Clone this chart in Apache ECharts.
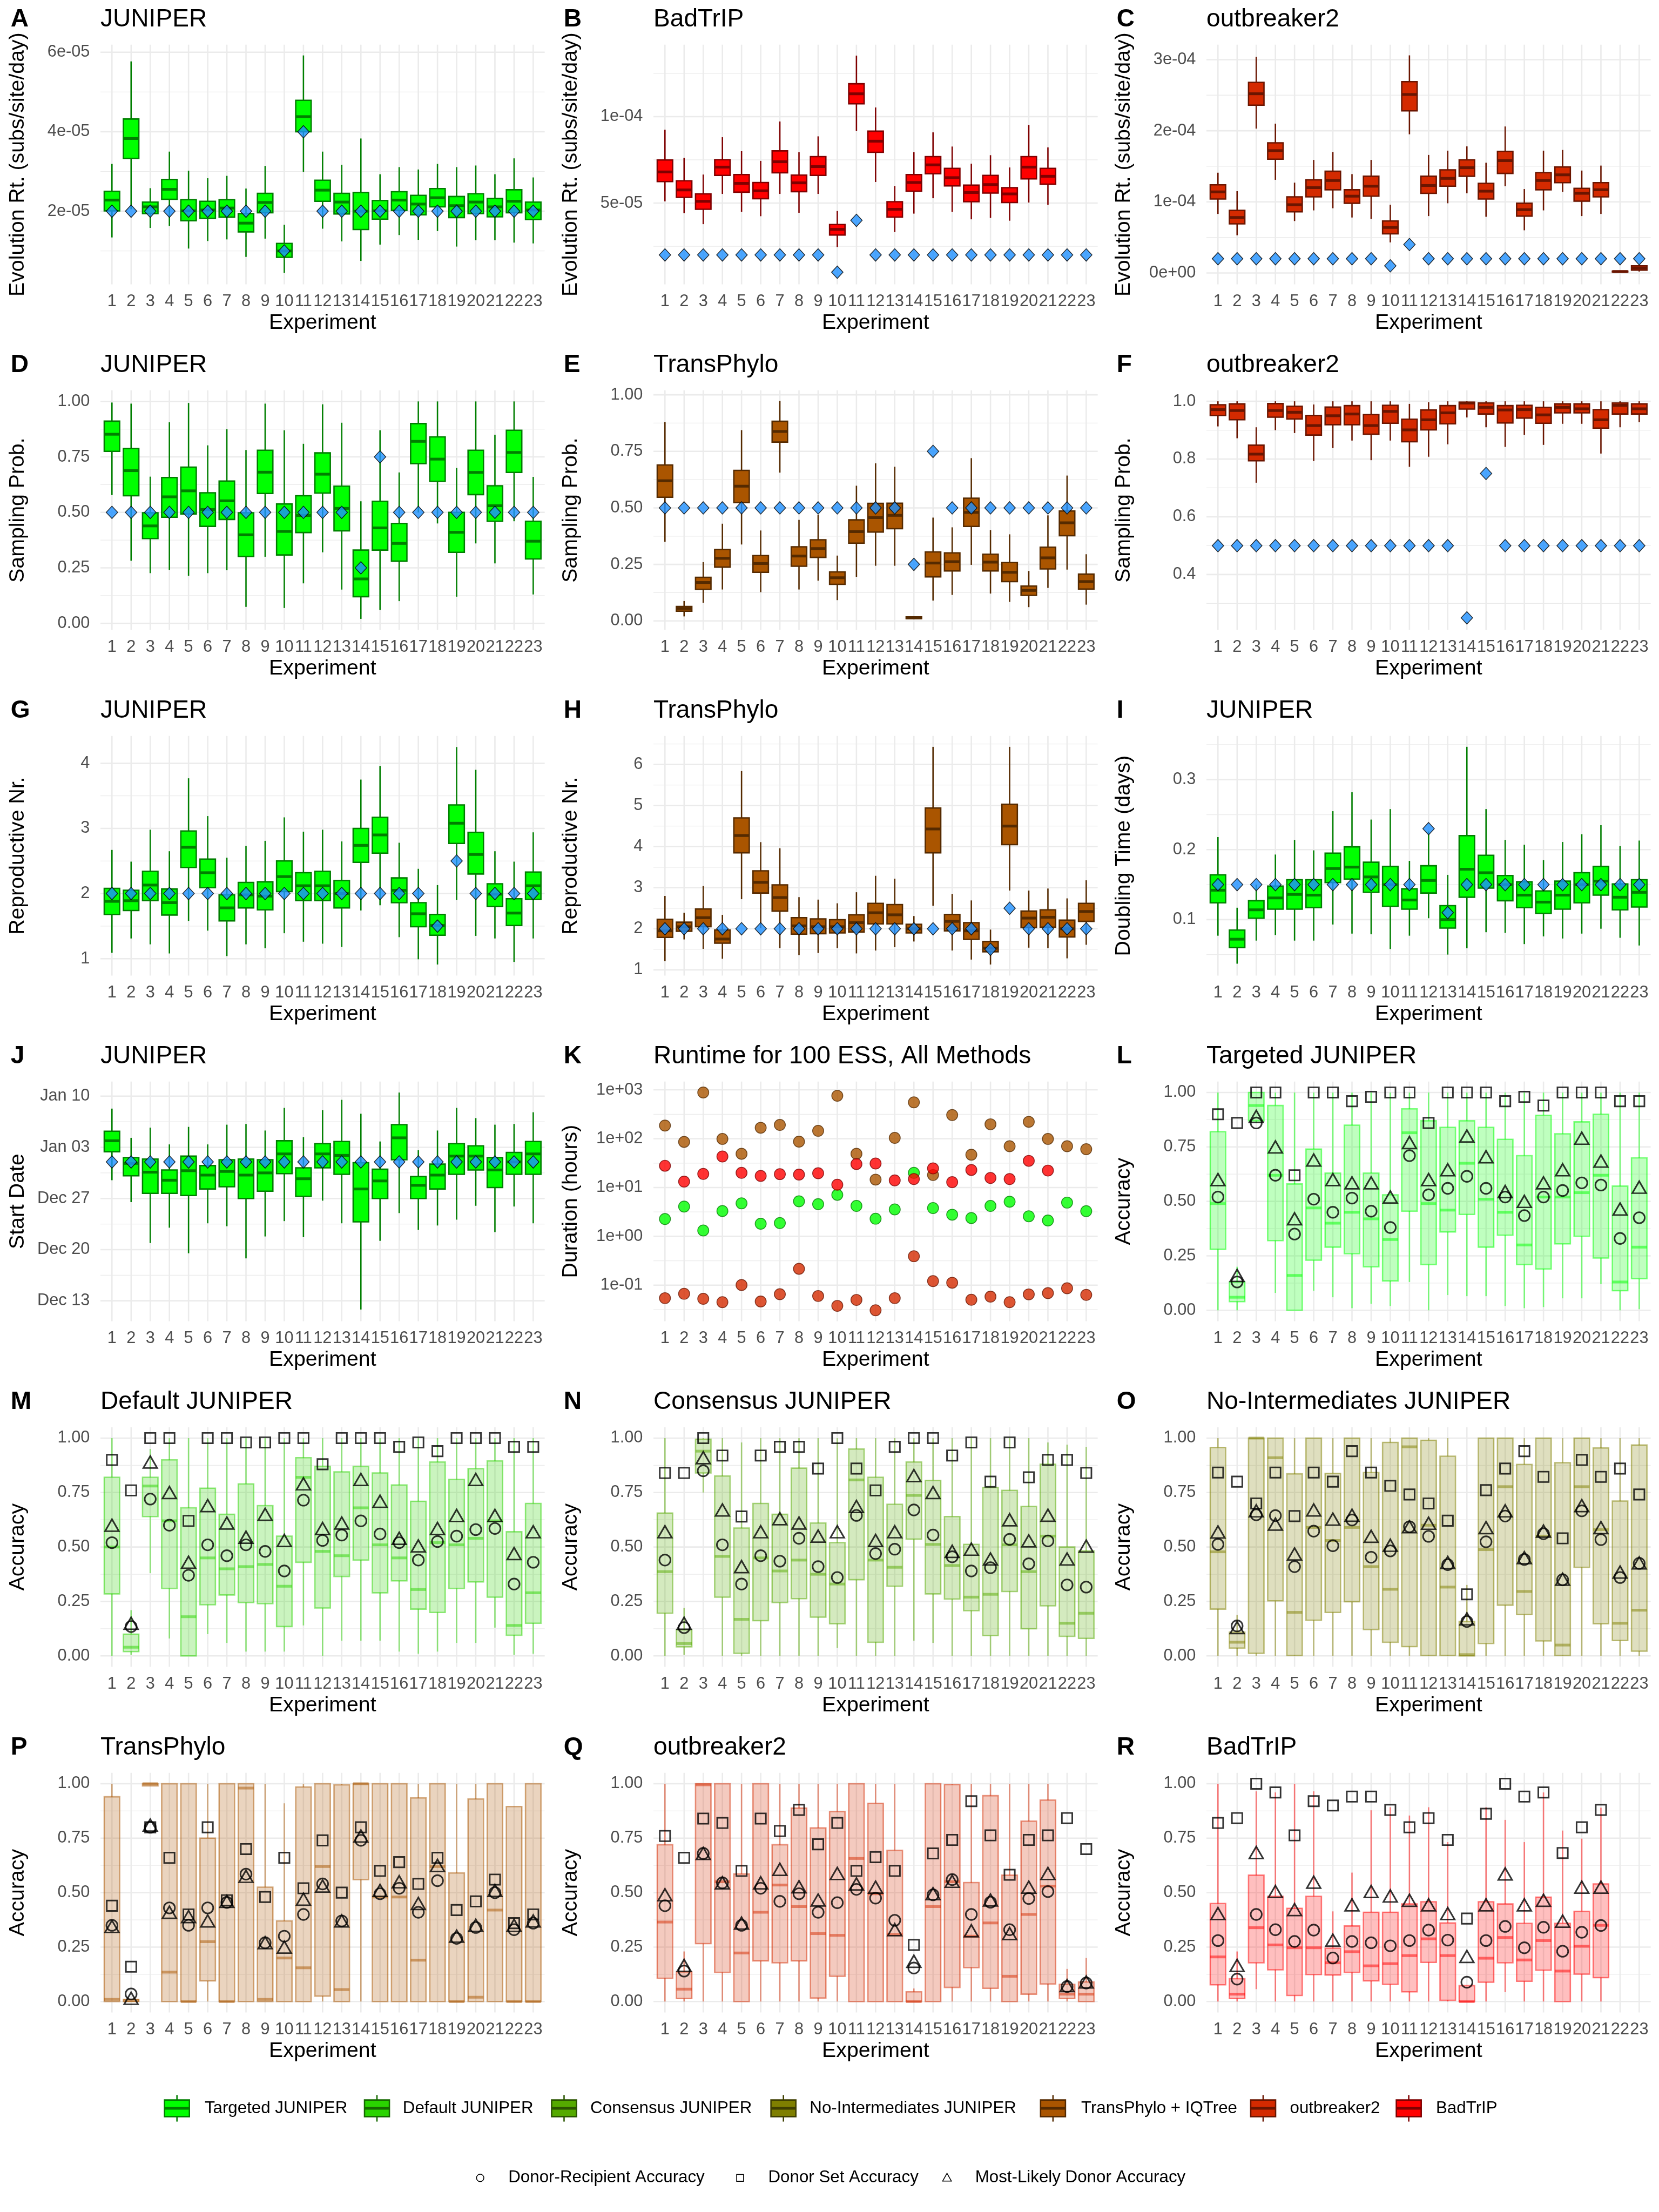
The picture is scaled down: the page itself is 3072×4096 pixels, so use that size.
<!DOCTYPE html>
<html><head><meta charset="utf-8">
<script src="https://cdn.jsdelivr.net/npm/echarts@6.0.0/dist/echarts.min.js"></script>
<style>html,body{margin:0;padding:0;background:#ffffff;}#chart{width:3072px;height:4096px;}</style>
</head><body><div id="chart"></div>
<script>
const S = 3072 / 3600;
const FONT = '"Liberation Sans", Arial, Helvetica, sans-serif';
const experiments = ['1','2','3','4','5','6','7','8','9','10','11','12','13','14','15','16','17','18','19','20','21','22','23'];

// ---------- Panel A-C: evolution rate [min, q1, median, q3, max] ----------
const evoJuniperBox = [
 [1.34e-5,2.01e-5,2.28e-5,2.50e-5,3.19e-5],[2.05e-5,3.33e-5,3.83e-5,4.32e-5,5.77e-5],[1.58e-5,1.94e-5,2.11e-5,2.23e-5,2.58e-5],
 [1.63e-5,2.30e-5,2.55e-5,2.80e-5,3.50e-5],[1.06e-5,1.76e-5,2.01e-5,2.29e-5,3.02e-5],[1.25e-5,1.82e-5,2.03e-5,2.25e-5,2.83e-5],
 [1.29e-5,1.85e-5,2.08e-5,2.29e-5,2.89e-5],[0.85e-5,1.48e-5,1.70e-5,1.94e-5,2.57e-5],[1.31e-5,1.96e-5,2.22e-5,2.45e-5,3.14e-5],
 [0.45e-5,0.84e-5,1.00e-5,1.19e-5,1.66e-5],[2.99e-5,4.00e-5,4.38e-5,4.79e-5,5.92e-5],[1.56e-5,2.25e-5,2.53e-5,2.78e-5,3.50e-5],
 [1.24e-5,1.93e-5,2.23e-5,2.45e-5,3.17e-5],[0.75e-5,1.54e-5,2.00e-5,2.47e-5,3.83e-5],[1.16e-5,1.80e-5,2.01e-5,2.27e-5,2.93e-5],
 [1.40e-5,2.02e-5,2.28e-5,2.49e-5,3.11e-5],[1.28e-5,1.91e-5,2.18e-5,2.40e-5,3.05e-5],[1.50e-5,2.11e-5,2.34e-5,2.57e-5,3.19e-5],
 [1.11e-5,1.84e-5,2.14e-5,2.37e-5,3.11e-5],[1.27e-5,1.94e-5,2.23e-5,2.44e-5,3.15e-5],[1.27e-5,1.86e-5,2.11e-5,2.32e-5,2.93e-5],
 [1.21e-5,1.96e-5,2.25e-5,2.54e-5,3.33e-5],[1.19e-5,1.79e-5,2.03e-5,2.23e-5,2.85e-5]];
const evoBadtripBox = [
 [5.10e-5,6.24e-5,6.80e-5,7.49e-5,9.24e-5],[4.42e-5,5.33e-5,5.76e-5,6.29e-5,7.61e-5],[3.78e-5,4.64e-5,5.10e-5,5.53e-5,6.65e-5],
 [5.53e-5,6.60e-5,7.08e-5,7.51e-5,8.81e-5],[4.49e-5,5.63e-5,6.14e-5,6.65e-5,8.00e-5],[4.24e-5,5.25e-5,5.71e-5,6.19e-5,7.44e-5],
 [5.53e-5,6.75e-5,7.39e-5,8.02e-5,9.72e-5],[4.44e-5,5.66e-5,6.17e-5,6.62e-5,7.94e-5],[5.53e-5,6.60e-5,7.11e-5,7.69e-5,8.86e-5],
 [2.46e-5,3.15e-5,3.48e-5,3.76e-5,4.54e-5],[9.16e-5,10.74e-5,11.32e-5,11.90e-5,13.53e-5],[6.22e-5,7.94e-5,8.58e-5,9.16e-5,10.53e-5],
 [3.32e-5,4.19e-5,4.64e-5,5.08e-5,5.99e-5],[4.39e-5,5.69e-5,6.19e-5,6.65e-5,7.94e-5],[5.28e-5,6.70e-5,7.21e-5,7.69e-5,9.09e-5],
 [4.49e-5,5.99e-5,6.47e-5,7.01e-5,8.27e-5],[4.06e-5,5.08e-5,5.61e-5,6.04e-5,7.28e-5],[4.14e-5,5.58e-5,6.07e-5,6.60e-5,7.77e-5],
 [3.98e-5,5.03e-5,5.53e-5,5.89e-5,7.06e-5],[5.03e-5,6.40e-5,7.08e-5,7.69e-5,9.52e-5],[4.90e-5,6.09e-5,6.55e-5,7.01e-5,8.22e-5],
 null,null];
const evoOutbreakerBox = [
 [0.83e-4,1.04e-4,1.14e-4,1.24e-4,1.41e-4],[0.53e-4,0.69e-4,0.78e-4,0.88e-4,1.15e-4],[2.03e-4,2.36e-4,2.52e-4,2.68e-4,3.04e-4],
 [1.31e-4,1.60e-4,1.72e-4,1.83e-4,2.10e-4],[0.73e-4,0.86e-4,0.96e-4,1.07e-4,1.27e-4],[0.88e-4,1.07e-4,1.20e-4,1.31e-4,1.59e-4],
 [0.91e-4,1.17e-4,1.30e-4,1.43e-4,1.70e-4],[0.78e-4,0.98e-4,1.08e-4,1.17e-4,1.39e-4],[0.76e-4,1.08e-4,1.22e-4,1.36e-4,1.59e-4],
 [0.43e-4,0.55e-4,0.64e-4,0.73e-4,0.96e-4],[1.95e-4,2.28e-4,2.51e-4,2.69e-4,3.06e-4],[0.80e-4,1.12e-4,1.23e-4,1.36e-4,1.66e-4],
 [0.98e-4,1.22e-4,1.33e-4,1.45e-4,1.72e-4],[1.12e-4,1.36e-4,1.48e-4,1.59e-4,1.78e-4],[0.79e-4,1.04e-4,1.15e-4,1.26e-4,1.55e-4],
 [1.22e-4,1.40e-4,1.58e-4,1.71e-4,2.06e-4],[0.60e-4,0.80e-4,0.89e-4,0.98e-4,1.18e-4],[0.88e-4,1.17e-4,1.30e-4,1.41e-4,1.72e-4],
 [1.14e-4,1.27e-4,1.38e-4,1.49e-4,1.73e-4],[0.80e-4,1.01e-4,1.12e-4,1.19e-4,1.44e-4],[0.83e-4,1.07e-4,1.17e-4,1.27e-4,1.51e-4],
 [0.01e-4,0.015e-4,0.02e-4,0.025e-4,0.03e-4],[0.02e-4,0.04e-4,0.07e-4,0.10e-4,0.11e-4]];
const evoTrue = [2e-5,2e-5,2e-5,2e-5,2e-5,2e-5,2e-5,2e-5,2e-5,1e-5,4e-5,2e-5,2e-5,2e-5,2e-5,2e-5,2e-5,2e-5,2e-5,2e-5,2e-5,2e-5,2e-5];

// ---------- Panel D-F: sampling probability ----------
const sampJuniperBox = [
 [.578,.775,.852,.911,.995],[.282,.575,.688,.788,.99],[.226,.382,.439,.498,.661],[.241,.478,.570,.657,.906],
 [.214,.493,.597,.704,.993],[.226,.437,.513,.588,.802],[.239,.468,.552,.641,.875],[.074,.301,.399,.498,.781],
 [.30,.585,.681,.78,.99],[.069,.308,.414,.538,.87],[.18,.409,.486,.575,.809],[.32,.587,.672,.768,.987],
 [.152,.417,.518,.618,.904],[.02,.12,.20,.33,.55],[.06,.33,.43,.55,.87],[.10,.28,.36,.45,.68],
 [.50,.72,.82,.90,1.0],[.45,.64,.74,.84,1.0],[.12,.32,.41,.50,.70],[.36,.58,.68,.78,1.0],
 [.27,.46,.53,.62,.85],[.46,.68,.77,.87,1.0],[.13,.29,.37,.46,.66]];
const sampTransphyloBox = [
 [.35,.547,.62,.69,.88],[.02,.043,.055,.064,.088],[.08,.14,.17,.193,.26],[.139,.238,.277,.316,.43],
 [.338,.523,.596,.666,.844],[.127,.215,.254,.289,.40],[.656,.791,.838,.883,.973],[.139,.242,.287,.328,.447],
 [.178,.281,.32,.359,.47],[.092,.162,.191,.217,.289],[.195,.344,.395,.447,.598],[.244,.393,.457,.52,.697],
 [.244,.408,.467,.521,.682],[.008,.01,.014,.018,.02],[.09,.195,.256,.305,.457],[.115,.221,.262,.301,.414],
 [.248,.418,.48,.543,.72],[.121,.221,.26,.295,.402],[.084,.174,.215,.258,.383],[.061,.113,.135,.154,.221],
 [.146,.23,.279,.326,.467],[.227,.377,.434,.486,.643],[.072,.141,.174,.207,.295]];
const sampOutbreakerBox = [
 [.913,.951,.971,.988,1.0],[.872,.936,.968,.991,1.0],[.718,.794,.817,.848,.91],[.90,.945,.968,.992,1.0],
 [.89,.939,.962,.983,1.0],[.793,.883,.916,.951,.989],[.838,.919,.95,.98,1.0],[.864,.919,.956,.985,1.0],
 [.796,.886,.916,.954,1.0],[.864,.924,.965,.986,1.0],[.773,.86,.901,.938,.991],[.808,.901,.936,.97,.997],
 [.851,.922,.96,.985,1.0],[.944,.973,.994,.997,1.0],[.91,.956,.979,.994,1.0],[.842,.925,.97,.985,1.0],
 [.884,.942,.971,.986,1.0],[.849,.924,.953,.979,1.0],[.922,.96,.979,.991,1.0],[.922,.96,.974,.991,1.0],
 [.819,.907,.936,.971,1.0],[.91,.956,.986,.994,1.0],[.928,.956,.974,.991,1.0]];
const sampTrue = [.5,.5,.5,.5,.5,.5,.5,.5,.5,.5,.5,.5,.5,.25,.75,.5,.5,.5,.5,.5,.5,.5,.5];

// ---------- Panel G-H: reproductive number ----------
const rJuniperBox = [
 [1.09,1.68,1.88,2.08,2.67],[1.31,1.74,1.89,2.05,2.49],[1.22,1.89,2.13,2.34,2.98],[1.08,1.67,1.86,2.07,2.65],
 [1.58,2.40,2.71,2.96,3.77],[1.43,2.09,2.32,2.53,3.19],[1.04,1.58,1.78,1.98,2.55],[1.22,1.78,1.98,2.17,2.73],
 [1.16,1.75,1.96,2.18,2.81],[1.39,2.03,2.26,2.50,3.17],[1.26,1.89,2.12,2.32,2.95],[1.23,1.89,2.12,2.34,2.98],
 [1.18,1.78,2.00,2.20,2.80],[1.74,2.48,2.74,3.00,3.75],[1.82,2.62,2.90,3.17,3.96],[1.33,1.86,2.05,2.24,2.78],
 [0.99,1.49,1.69,1.86,2.38],[0.91,1.36,1.51,1.68,2.13],[1.90,2.77,3.08,3.36,4.25],[1.35,2.30,2.60,2.94,3.90],
 [1.31,1.80,1.99,2.15,2.65],[0.95,1.51,1.70,1.92,2.49],[1.31,1.91,2.12,2.33,2.94]];
const rTransphyloBox = [
 [1.21,1.79,1.95,2.23,2.80],[1.74,1.94,2.05,2.16,2.39],[1.51,2.05,2.27,2.48,3.04],[1.27,1.65,1.75,1.97,2.34],
 [2.72,3.85,4.27,4.70,5.84],[2.02,2.87,3.13,3.41,4.11],[1.53,2.43,2.76,3.07,3.96],[1.36,1.87,2.07,2.27,2.77],
 [1.41,1.88,2.05,2.24,2.71],[1.53,1.90,2.05,2.22,2.62],[1.40,1.92,2.15,2.34,2.89],[1.47,2.12,2.39,2.62,3.29],
 [1.55,2.12,2.34,2.59,3.22],[1.69,1.90,2.00,2.11,2.31],[2.56,3.85,4.43,4.94,6.43],[1.47,1.95,2.18,2.35,2.85],
 [1.25,1.74,1.95,2.15,2.69],[1.13,1.44,1.53,1.69,1.98],[2.93,4.05,4.50,5.03,6.43],[1.54,2.03,2.26,2.43,2.93],
 [1.53,2.04,2.28,2.46,2.98],[1.28,1.80,2.00,2.21,2.74],[1.61,2.18,2.42,2.62,3.18]];
const rTrue = [2,2,2,2,2,2,2,2,2,2,2,2,2,2,2,2,2,1.5,2.5,2,2,2,2];

// ---------- Panel I: doubling time ----------
const dtJuniperBox = [
 [.077,.124,.142,.164,.218],[.037,.060,.072,.085,.117],[.070,.102,.114,.127,.150],[.078,.115,.131,.148,.193],
 [.070,.115,.136,.157,.214],[.070,.117,.135,.157,.199],[.093,.153,.173,.195,.255],[.080,.158,.175,.204,.282],
 [.079,.139,.161,.182,.243],[.058,.119,.150,.176,.258],[.077,.115,.128,.144,.184],[.102,.138,.156,.177,.226],
 [.050,.088,.100,.120,.164],[.059,.132,.172,.220,.347],[.082,.145,.167,.192,.258],[.081,.127,.150,.163,.214],
 [.065,.117,.135,.154,.207],[.076,.109,.125,.141,.185],[.073,.115,.135,.155,.211],[.080,.124,.150,.167,.222],
 [.087,.135,.155,.176,.235],[.074,.114,.132,.151,.205],[.063,.118,.139,.157,.213]];
const dtTrue = [.15,.15,.15,.15,.15,.15,.15,.15,.15,.15,.15,.23,.11,.15,.15,.15,.15,.15,.15,.15,.15,.15,.15];

// ---------- Panel J: start date, days relative to Jan 03 ----------
const startJuniperBox = [
 [-4.5,-0.6,0.9,2.2,5.3],[-7.5,-3.9,-2.2,-1.4,1.3],[-13.1,-6.3,-3.4,-1.6,2.7],[-11.0,-6.3,-4.5,-3.1,0.4],
 [-14.5,-6.6,-3.2,-1.2,2.8],[-10.4,-5.7,-3.8,-2.5,0.4],[-10.8,-5.4,-3.3,-1.7,3.1],[-15.2,-7.0,-3.8,-1.6,3.2],
 [-12.2,-6.0,-3.5,-1.7,2.3],[-10.1,-3.6,-0.9,0.9,5.4],[-12.3,-6.7,-4.3,-2.8,1.4],[-7.3,-2.8,-0.9,0.5,5.1],
 [-10.4,-3.7,-1.1,0.8,6.5],[-22.2,-10.2,-5.7,-2.1,4.6],[-12.8,-7.0,-4.6,-3.0,0.8],[-9.0,-1.7,1.3,3.1,7.5],
 [-11.3,-7.0,-5.2,-4.0,-0.4],[-10.7,-5.7,-3.8,-2.3,2.3],[-9.9,-3.7,-1.2,0.5,5.4],[-8.0,-3.1,-1.2,0.2,4.0],
 [-11.6,-5.5,-3.1,-1.4,3.1],[-8.1,-3.7,-2.0,-0.7,3.2],[-10.4,-3.7,-0.9,0.8,4.8]];
const startTrue = [-2,-2,-2,-2,-2,-2,-2,-2,-2,-2,-2,-2,-2,-2,-2,-2,-2,-2,-2,-2,-2,-2,-2];
const startTickDays = [-21,-14,-7,0,7];
const startTickLabels = ['Dec 13','Dec 20','Dec 27','Jan 03','Jan 10'];

// ---------- Panel K: runtime (hours) ----------
const runtimeTransphylo = [185,86,883,99,49,167,191,87,145,755,49,14.5,104,553,18,305,47,197,70,221,99,70,61];
const runtimeJuniper = [2.27,4.07,1.32,3.30,4.75,1.81,1.87,5.22,4.56,7.06,4.20,2.30,3.56,20.0,3.79,2.77,2.37,4.20,5.12,2.57,2.11,4.91,3.27];
const runtimeBadtrip = [27.9,13.2,19.0,43.2,20.0,17.3,18.8,18.4,19.6,11.4,30.3,31.0,14.0,14.9,24.6,12.9,22.9,15.7,14.9,35.1,22.2,null,null];
const runtimeOutbreaker = [0.0542,0.0668,0.0526,0.045,0.101,0.0464,0.0655,0.216,0.060,0.0377,0.0499,0.0306,0.0542,0.392,0.121,0.112,0.0504,0.0583,0.045,0.0648,0.0689,0.0867,0.0634];

// ---------- Panels L-R: accuracy boxes and point accuracies ----------
const accTargetedBox = [
 [0,.28,.49,.82,1],[0,.04,.06,.13,.20],[.86,.87,.94,1,1],[.08,.32,.62,.94,1],[0,0,.16,.58,1],[.09,.23,.47,.74,1],
 [.06,.29,.40,.63,1],[.01,.26,.45,.85,1],[.03,.20,.42,.63,1],[.02,.135,.325,.53,1],[.13,.455,.815,.925,1],[0,.21,.49,.87,1],
 [.07,.36,.46,.84,1],[.065,.44,.675,.87,1],[.065,.29,.51,.84,1],[.02,.345,.45,.785,1],[.01,.21,.30,.71,1],[.015,.19,.52,.895,1],
 [.055,.305,.52,.81,1],[.055,.34,.54,.865,1],[.12,.24,.62,.90,1],[0,.09,.13,.57,1],[.005,.145,.29,.70,1]];
const accTargetedDR = [.52,.13,.86,.62,.35,.51,.45,.515,.455,.38,.71,.53,.56,.615,.56,.52,.435,.52,.55,.585,.575,.33,.425];
const accTargetedDS = [.90,.86,1,1,.62,1,1,.96,.98,1,1,.86,1,1,1,.96,.98,.94,1,1,1,.96,.96];
const accTargetedMLD = [.60,.16,.89,.75,.42,.69,.60,.585,.585,.52,.77,.60,.645,.80,.705,.545,.50,.585,.645,.79,.685,.465,.565];

const accDefaultBox = [
 [0,.285,.50,.82,1],[.005,.02,.04,.10,.21],[.38,.64,.78,.82,.95],[.08,.31,.62,.90,1],[0,0,.18,.68,1],[.10,.235,.45,.77,1],
 [.06,.28,.40,.65,1],[.02,.245,.41,.79,1],[.02,.24,.42,.69,1],[.02,.135,.32,.55,1],[.14,.43,.82,.91,1],[0,.22,.48,.87,1],
 [.07,.365,.46,.845,1],[.07,.44,.68,.87,1],[.07,.29,.51,.84,1],[.02,.345,.45,.785,1],[.01,.215,.305,.71,1],[.02,.20,.52,.89,1],
 [.06,.31,.51,.81,1],[.06,.34,.54,.86,1],[.13,.27,.62,.895,1],[.005,.095,.14,.57,1],[.01,.15,.29,.70,1]];
const accDefaultDR = [.52,.135,.72,.60,.37,.51,.46,.51,.48,.39,.715,.53,.555,.62,.56,.52,.44,.525,.55,.58,.585,.33,.43];
const accDefaultDS = [.90,.76,1,1,.62,1,1,.98,.98,1,1,.88,1,1,1,.96,.98,.94,1,1,1,.96,.96];
const accDefaultMLD = [.60,.15,.89,.75,.43,.69,.61,.545,.65,.53,.79,.585,.61,.81,.71,.54,.505,.585,.645,.81,.645,.47,.57];

const accConsensusBox = [
 [0,.196,.387,.656,1],[.005,.042,.057,.12,.22],[.75,.84,.94,.995,1],[0,.27,.457,.826,1],[0,.012,.168,.587,.98],[0,.162,.45,.70,1],
 [0,.245,.39,.65,1],[0,.263,.44,.862,1],[0,.178,.375,.61,1],[.036,.148,.33,.52,1],[0,.35,.808,.95,1],[0,.063,.44,.82,1],
 [0,.32,.407,.696,1],[.07,.536,.737,.89,1],[.06,.285,.512,.806,1],[0,.261,.415,.64,1],[0,.208,.27,.512,1],[0,.093,.283,.773,1],
 [0,.296,.51,.76,1],[0,.125,.387,.686,1],[0,.23,.55,.88,.98],[0,.09,.15,.50,.97],[0,.081,.196,.482,.96]];
const accConsensusDR = [.44,.13,.85,.51,.33,.46,.435,.54,.41,.36,.645,.47,.49,.67,.555,.455,.39,.405,.535,.423,.528,.326,.316];
const accConsensusDS = [.84,.84,1,.92,.64,.92,.96,.96,.86,1,.86,.76,.96,1,1,.92,.98,.80,.98,.82,.90,.90,.84];
const accConsensusMLD = [.57,.15,.91,.67,.41,.57,.63,.61,.55,.57,.686,.53,.57,.828,.75,.48,.49,.445,.625,.528,.646,.445,.504];

const accNoIntBox = [
 [0,.215,.478,.957,1],[0,.036,.063,.109,.188],[0,.012,1,1,1],[0,.253,.91,1,1],[0,.002,.20,.836,1],[0,.164,.59,1,1],
 [0,.20,.53,.838,1],[0,.249,.59,1,1],[0,.121,.41,.842,1],[0,.063,.306,.98,1],[0,.043,.96,1,1],[0,.002,.60,.99,1],
 [0,.002,.316,.917,1],[0,0,.006,.158,.326],[0,.057,.488,1,1],[0,.233,.777,1,1],[0,.19,.296,.879,1],[0,.069,.55,1,1],
 [0,.002,.05,.887,1],[0,.407,.777,1,1],[0,.148,.58,.955,1],[0,.071,.15,.711,1],[0,.022,.21,.968,1]];
const accNoIntDR = [.512,.138,.648,.644,.41,.573,.506,.624,.453,.482,.593,.549,.419,.158,.524,.642,.443,.561,.35,.666,.534,.36,.425];
const accNoIntDS = [.842,.80,.70,.842,.642,.842,.80,.94,.842,.781,.741,.70,.621,.283,.761,.86,.94,.822,.54,.90,.822,.86,.741];
const accNoIntMLD = [.569,.13,.666,.605,.468,.67,.628,.646,.549,.508,.593,.609,.429,.17,.589,.666,.451,.573,.352,.69,.589,.385,.427];

const accTransphyloBox = [
 [0,0,.01,.94,1],[0,0,.005,.01,.01],[.99,.99,1,1,1],[0,0,.135,1,1],[0,0,0,1,1],[0,.095,.275,.75,1],
 [0,0,0,1,1],[0,0,.98,1,1],[0,0,.01,.525,1],[0,0,.20,.37,.91],[0,0,.155,.985,1],[0,.025,.62,1,1],
 [0,0,.055,.995,1],[0,.56,1,1,1],[0,0,.48,1,1],[0,0,.48,1,1],[0,0,.19,.935,1],[0,0,.62,1,1],
 [0,0,0,.59,1],[0,0,.02,.93,1],[0,0,.42,1,1],[0,0,0,.895,.895],[0,0,0,1,1]];
const accTransphyloDR = [.35,.035,.80,.43,.35,.43,.455,.585,.27,.30,.40,.54,.37,.74,.495,.52,.41,.555,.29,.34,.50,.33,.36];
const accTransphyloDS = [.44,.16,.80,.66,.40,.80,.465,.70,.48,.66,.52,.74,.50,.80,.60,.64,.54,.66,.42,.46,.56,.36,.40];
const accTransphyloMLD = [.345,.015,.81,.41,.39,.37,.46,.575,.27,.25,.47,.53,.37,.76,.51,.55,.45,.625,.30,.35,.51,.35,.37];

const accOutbreakerBox = [
 [0,.107,.365,.72,1],[0,.014,.057,.136,.23],[0,.266,.995,1,1],[0,.134,.55,1,1],[0,0,.223,.586,1],[0,.187,.41,1,1],
 [0,.178,.535,.72,1],[0,.187,.436,.888,1],[0,.016,.312,.797,1],[0,.116,.304,.872,1],[0,0,.657,1,1],[0,0,.495,.91,1],
 [0,0,.308,.694,1],[0,0,0,.045,.06],[0,0,.436,1,1],[0,.065,.55,.996,1],[0,.156,.30,.546,1],[0,.061,.361,.945,1],
 [0,0,.116,.58,1],[0,.034,.40,.828,1],[0,.081,.53,.925,1],[0,.014,.034,.079,.15],[0,0,.034,.09,.2]];
const accOutbreakerDR = [.44,.14,.68,.545,.35,.52,.46,.495,.41,.454,.515,.475,.373,.154,.49,.56,.40,.456,.33,.473,.505,.069,.085];
const accOutbreakerDS = [.76,.66,.84,.82,.60,.84,.783,.88,.722,.82,.60,.663,.60,.26,.68,.742,.92,.763,.582,.742,.763,.842,.70];
const accOutbreakerMLD = [.49,.166,.68,.545,.36,.545,.607,.527,.466,.588,.54,.525,.33,.185,.495,.552,.325,.466,.312,.525,.588,.073,.09];

const accBadtripBox = [
 [0,.077,.205,.45,1],[0,.014,.034,.105,.23],[.057,.178,.339,.58,.965],[0,.146,.26,.483,.96],[0,.028,.247,.428,1],[0,.124,.247,.483,.965],
 [0,.122,.178,.245,.414],[0,.134,.229,.347,.592],[0,.095,.164,.41,.878],[0,.079,.174,.41,.892],[0,.045,.211,.448,.854],[0,.18,.288,.458,.892],
 [0,.006,.211,.361,.732],[0,0,0,.073,.073],[0,.089,.199,.458,.892],[.043,.178,.294,.448,.834],[0,.093,.191,.359,.732],[0,.144,.28,.479,.96],
 [0,0,.14,.359,.785],[0,.126,.254,.414,.748],[0,.11,.35,.54,.89],null,null];
const accBadtripDR = [.28,.103,.40,.33,.276,.328,.20,.276,.27,.256,.28,.328,.282,.089,.28,.345,.247,.341,.231,.318,.349,null,null];
const accBadtripDS = [.82,.842,1,.96,.763,.92,.90,.941,.941,.88,.80,.842,.742,.381,.862,1,.941,.96,.682,.80,.88,null,null];
const accBadtripMLD = [.404,.166,.684,.505,.422,.548,.282,.444,.505,.485,.465,.444,.404,.207,.444,.586,.444,.465,.369,.525,.525,null,null];

// ---------- tick values / labels ----------
const probTicks = [0,0.25,0.5,0.75,1];
const probLabels = ['0.00','0.25','0.50','0.75','1.00'];
const probMinor = [0.125,0.375,0.625,0.875];

// ---------- styles ----------
const COL = {
  targeted:['#00FF00','#007F00'], def:['#2AD400','#156A00'], consensus:['#55AA00','#2A5500'],
  noint:['#7F7F00','#3F3F00'], transphylo:['#AA5500','#552A00'], outbreaker:['#D42A00','#6A1500'], badtrip:['#FF0000','#7F0000']
};
function rgba(hex, a){ const n=parseInt(hex.slice(1),16); return 'rgba('+((n>>16)&255)+','+((n>>8)&255)+','+(n&255)+','+a+')'; }
const GRID_C = '#EBEBEB', MAJOR_W = 3*S, MINOR_W = 1.5*S;
const BOX_W = 33.5*S, BOX_LW = 3*S;

const evoAxA = {yr:[0.18e-5,6.19e-5], step:2e-5, ticks:[2e-5,4e-5,6e-5], labels:['2e-05','4e-05','6e-05'], minor:[1e-5,3e-5,5e-5]};
const evoAxB = {yr:[0.37e-5,14.16e-5], step:5e-5, ticks:[5e-5,1e-4], labels:['5e-05','1e-04'], minor:[2.5e-5,7.5e-5,12.5e-5]};
const evoAxC = {yr:[-0.15e-4,3.21e-4], step:1e-4, ticks:[0,1e-4,2e-4,3e-4], labels:['0e+00','1e-04','2e-04','3e-04'], minor:[0.5e-4,1.5e-4,2.5e-4]};
const probAx = (lo,hi)=>({yr:[lo,hi], step:0.25, ticks:probTicks, labels:probLabels, minor:probMinor});

const panels = [
 Object.assign({id:'A',row:0,col:0,title:'JUNIPER',ytitle:'Evolution Rt. (subs/site/day)',kind:'param',box:evoJuniperBox,truth:evoTrue,color:COL.targeted}, evoAxA),
 Object.assign({id:'B',row:0,col:1,title:'BadTrIP',ytitle:'Evolution Rt. (subs/site/day)',kind:'param',box:evoBadtripBox,truth:evoTrue,color:COL.badtrip}, evoAxB),
 Object.assign({id:'C',row:0,col:2,title:'outbreaker2',ytitle:'Evolution Rt. (subs/site/day)',kind:'param',box:evoOutbreakerBox,truth:evoTrue,color:COL.outbreaker}, evoAxC),
 Object.assign({id:'D',row:1,col:0,title:'JUNIPER',ytitle:'Sampling Prob.',kind:'param',box:sampJuniperBox,truth:sampTrue,color:COL.targeted}, probAx(-0.03,1.05)),
 Object.assign({id:'E',row:1,col:1,title:'TransPhylo',ytitle:'Sampling Prob.',kind:'param',box:sampTransphyloBox,truth:sampTrue,color:COL.transphylo}, probAx(-0.04,1.02)),
 {id:'F',row:1,col:2,title:'outbreaker2',ytitle:'Sampling Prob.',kind:'param',box:sampOutbreakerBox,truth:sampTrue,color:COL.outbreaker,
   yr:[0.211,1.038], step:0.2, ticks:[0.4,0.6,0.8,1.0], labels:['0.4','0.6','0.8','1.0'], minor:[0.3,0.5,0.7,0.9]},
 {id:'G',row:2,col:0,title:'JUNIPER',ytitle:'Reproductive Nr.',kind:'param',box:rJuniperBox,truth:rTrue,color:COL.targeted,
   yr:[0.74,4.42], step:1, ticks:[1,2,3,4], labels:['1','2','3','4'], minor:[1.5,2.5,3.5]},
 {id:'H',row:2,col:1,title:'TransPhylo',ytitle:'Reproductive Nr.',kind:'param',box:rTransphyloBox,truth:rTrue,color:COL.transphylo,
   yr:[0.865,6.695], step:1, ticks:[1,2,3,4,5,6], labels:['1','2','3','4','5','6'], minor:[1.5,2.5,3.5,4.5,5.5,6.5]},
 {id:'I',row:2,col:2,title:'JUNIPER',ytitle:'Doubling Time (days)',kind:'param',box:dtJuniperBox,truth:dtTrue,color:COL.targeted,
   yr:[0.0215,0.3625], step:0.1, ticks:[0.1,0.2,0.3], labels:['0.1','0.2','0.3'], minor:[0.05,0.15,0.25,0.35]},
 {id:'J',row:3,col:0,title:'JUNIPER',ytitle:'Start Date',kind:'param',box:startJuniperBox,truth:startTrue,color:COL.targeted,
   yr:[-23.7,9.0], step:7, ticks:startTickDays, labels:startTickLabels, minor:[-17.5,-10.5,-3.5,3.5]},
 {id:'K',row:3,col:1,title:'Runtime for 100 ESS, All Methods',ytitle:'Duration (hours)',kind:'runtime',log:true,
   yr:[0.0183,1476], ticks:[0.1,1,10,100,1000], labels:['1e-01','1e+00','1e+01','1e+02','1e+03'], minor:[0.0316,0.316,3.16,31.6,316]},
 Object.assign({id:'L',row:3,col:2,title:'Targeted JUNIPER',ytitle:'Accuracy',kind:'acc',box:accTargetedBox,dr:accTargetedDR,ds:accTargetedDS,mld:accTargetedMLD,color:COL.targeted}, probAx(-0.05,1.05)),
 Object.assign({id:'M',row:4,col:0,title:'Default JUNIPER',ytitle:'Accuracy',kind:'acc',box:accDefaultBox,dr:accDefaultDR,ds:accDefaultDS,mld:accDefaultMLD,color:COL.def}, probAx(-0.05,1.05)),
 Object.assign({id:'N',row:4,col:1,title:'Consensus JUNIPER',ytitle:'Accuracy',kind:'acc',box:accConsensusBox,dr:accConsensusDR,ds:accConsensusDS,mld:accConsensusMLD,color:COL.consensus}, probAx(-0.05,1.05)),
 Object.assign({id:'O',row:4,col:2,title:'No-Intermediates JUNIPER',ytitle:'Accuracy',kind:'acc',box:accNoIntBox,dr:accNoIntDR,ds:accNoIntDS,mld:accNoIntMLD,color:COL.noint}, probAx(-0.05,1.05)),
 Object.assign({id:'P',row:5,col:0,title:'TransPhylo',ytitle:'Accuracy',kind:'acc',box:accTransphyloBox,dr:accTransphyloDR,ds:accTransphyloDS,mld:accTransphyloMLD,color:COL.transphylo}, probAx(-0.05,1.05)),
 Object.assign({id:'Q',row:5,col:1,title:'outbreaker2',ytitle:'Accuracy',kind:'acc',box:accOutbreakerBox,dr:accOutbreakerDR,ds:accOutbreakerDS,mld:accOutbreakerMLD,color:COL.outbreaker}, probAx(-0.05,1.05)),
 Object.assign({id:'R',row:5,col:2,title:'BadTrIP',ytitle:'Accuracy',kind:'acc',box:accBadtripBox,dr:accBadtripDR,ds:accBadtripDS,mld:accBadtripMLD,color:COL.badtrip}, probAx(-0.05,1.05))
];

function labelFor(p, v) {
  for (let k = 0; k < p.ticks.length; k++) {
    const t = p.ticks[k];
    if (p.log) { if (Math.abs(v / t - 1) < 1e-6) return p.labels[k]; }
    else if (Math.abs(v - t) <= Math.abs(p.step) * 1e-6) return p.labels[k];
  }
  return '';
}

function yAxisFor(p, gi) {
  const ax = { gridIndex: gi, axisLine:{show:false}, axisTick:{show:false}, splitLine:{show:false},
    minorTick:{show:false}, minorSplitLine:{show:false}, splitArea:{show:false},
    axisLabel:{ fontFamily: FONT, fontSize: 36*S, color:'#4D4D4D', margin: 27.2*S, hideOverlap:false,
      formatter: (v) => labelFor(p, v) } };
  if (p.log) return Object.assign(ax, {type:'log', logBase:10, min:p.yr[0], max:p.yr[1]});
  const g = p.step / 50;
  const mn = parseFloat((Math.floor(p.yr[0] / g + 1e-9) * g).toPrecision(12));
  return Object.assign(ax, {type:'value', min: mn, max: p.yr[1], interval: g, scale:true});
}

function gridSeries(p, gi) {
  return { type:'custom', xAxisIndex:gi, yAxisIndex:gi, z:1, silent:true, clip:false,
    data:[[0, p.ticks[1]]],
    renderItem: function(params, api) {
      const cs = params.coordSys;
      const band = cs.width / experiments.length;
      const x0 = cs.x - 0.1*band, x1 = cs.x + cs.width + 0.1*band;
      const kids = [];
      p.minor.forEach(v => { const y = api.coord([0, v])[1];
        kids.push({type:'line', shape:{x1:x0,y1:y,x2:x1,y2:y}, style:{stroke:GRID_C, lineWidth:MINOR_W}}); });
      p.ticks.forEach(v => { const y = api.coord([0, v])[1];
        kids.push({type:'line', shape:{x1:x0,y1:y,x2:x1,y2:y}, style:{stroke:GRID_C, lineWidth:MAJOR_W}}); });
      experiments.forEach((e, i) => { const x = api.coord([i, p.ticks[1]])[0];
        kids.push({type:'line', shape:{x1:x,y1:cs.y,x2:x,y2:cs.y+cs.height}, style:{stroke:GRID_C, lineWidth:MAJOR_W}}); });
      return {type:'group', children:kids};
    }};
}

function boxSeries(p, gi, fill, stroke) {
  const data = [];
  p.box.forEach((b, i) => { if (b) data.push([i, b[0], b[1], b[2], b[3], b[4]]); });
  return { type:'custom', xAxisIndex:gi, yAxisIndex:gi, z:2, silent:true, clip:false,
    encode:{x:0, y:[1,2,3,4,5]}, data: data,
    renderItem: function(params, api) {
      const i = api.value(0);
      const y = [1,2,3,4,5].map(d => api.coord([i, api.value(d)])[1]);
      const cx = api.coord([i, api.value(3)])[0];
      const w = BOX_W;
      return {type:'group', children:[
        {type:'line', shape:{x1:cx,y1:y[4],x2:cx,y2:y[3]}, style:{stroke:stroke, lineWidth:BOX_LW}},
        {type:'line', shape:{x1:cx,y1:y[1],x2:cx,y2:y[0]}, style:{stroke:stroke, lineWidth:BOX_LW}},
        {type:'rect', shape:{x:cx-w/2, y:y[3], width:w, height:y[1]-y[3]}, style:{fill:fill, stroke:stroke, lineWidth:BOX_LW}},
        {type:'line', shape:{x1:cx-w/2,y1:y[2],x2:cx+w/2,y2:y[2]}, style:{stroke:stroke, lineWidth:BOX_LW*2}}
      ]};
    }};
}

function pointSeries(gi, arr, symbol, size, itemStyle, z) {
  const data = [];
  arr.forEach((v, i) => { if (v != null) data.push([i, v]); });
  return {type:'scatter', xAxisIndex:gi, yAxisIndex:gi, z:z, silent:true, symbol:symbol, symbolSize:size,
    data:data, itemStyle:itemStyle, emphasis:{disabled:true}};
}

const grids = [], xAxes = [], yAxes = [], series = [], graphics = [];
function txt(x, y, text, font, opts) {
  const o = Object.assign({align:'left', valign:'middle', rot:0, fill:'#000000'}, opts||{});
  return {type:'text', x:x, y:y, rotation:o.rot, silent:true,
    style:{text:text, font:font, fill:o.fill, align:o.align, verticalAlign:o.valign, textAlign:o.align, textVerticalAlign:o.valign}};
}

panels.forEach((p, gi) => {
  const ox = p.col*1200, oy = p.row*750;
  grids.push({left:(ox+222.16)*S, top:(oy+97)*S, width:955.7*S, height:520*S, containLabel:false});
  xAxes.push({type:'category', gridIndex:gi, data:experiments, boundaryGap:true,
    axisLine:{show:false}, axisTick:{show:false}, splitLine:{show:false},
    axisLabel:{interval:0, hideOverlap:false, fontFamily:FONT, fontSize:36*S, color:'#4D4D4D', margin:37*S, verticalAlign:'middle'}});
  yAxes.push(yAxisFor(p, gi));
  series.push(gridSeries(p, gi));
  if (p.kind === 'param') {
    series.push(boxSeries(p, gi, p.color[0], p.color[1]));
    series.push(pointSeries(gi, p.truth, 'diamond', [25*S, 27*S], {color:'#1E90FF', borderColor:'#000000', borderWidth:1.7*S}, 3));
  } else if (p.kind === 'acc') {
    series.push(boxSeries(p, gi, rgba(p.color[0], 0.25), rgba(p.color[0], 0.5)));
    const ms = {color:'rgba(0,0,0,0)', borderColor:'#000000', borderWidth:3.4*S};
    series.push(pointSeries(gi, p.dr, 'circle', 24*S, ms, 4));
    series.push(pointSeries(gi, p.ds, 'rect', 22.5*S, ms, 4));
    series.push(pointSeries(gi, p.mld, 'triangle', [30*S, 26*S], ms, 4));
  } else {
    const mk = (arr, c) => pointSeries(gi, arr, 'circle', 24*S, {color:c[0], borderColor:c[1], borderWidth:1.7*S}, 3);
    series.push(mk(runtimeTransphylo, COL.transphylo));
    series.push(mk(runtimeJuniper, COL.targeted));
    series.push(mk(runtimeBadtrip, COL.badtrip));
    series.push(mk(runtimeOutbreaker, COL.outbreaker));
  }
  graphics.push(txt((ox+23)*S, (oy+43)*S, p.id, 'bold '+(54*S)+'px '+FONT));
  graphics.push(txt((ox+218)*S, (oy+43)*S, p.title, (54*S)+'px '+FONT));
  graphics.push(txt((ox+39)*S, (oy+357)*S, p.ytitle, (46*S)+'px '+FONT, {align:'center', rot:Math.PI/2}));
  graphics.push(txt((ox+700)*S, (oy+701)*S, 'Experiment', (46*S)+'px '+FONT, {align:'center'}));
});

// ---------- legends ----------
const legendMethods = ['Targeted JUNIPER','Default JUNIPER','Consensus JUNIPER','No-Intermediates JUNIPER','TransPhylo + IQTree','outbreaker2','BadTrIP'];
const legendColors = [COL.targeted, COL.def, COL.consensus, COL.noint, COL.transphylo, COL.outbreaker, COL.badtrip];
const legendKeyX = [384, 818, 1224, 1700, 2285, 2741, 3057];
const legendTextX = [444, 874, 1281, 1757, 2346, 2799, 3116];
const LY1 = 4575, LY2 = 4726;
legendMethods.forEach((m, k) => {
  const cx = legendKeyX[k]*S, cy = LY1*S, c = legendColors[k];
  const st = {stroke:c[1], lineWidth:BOX_LW};
  graphics.push({type:'line', silent:true, shape:{x1:cx,y1:cy-28.8*S,x2:cx,y2:cy-18*S}, style:st});
  graphics.push({type:'line', silent:true, shape:{x1:cx,y1:cy+18*S,x2:cx,y2:cy+28.8*S}, style:st});
  graphics.push({type:'rect', silent:true, shape:{x:cx-27*S,y:cy-18*S,width:54*S,height:36*S}, style:{fill:c[0], stroke:c[1], lineWidth:BOX_LW}});
  graphics.push({type:'line', silent:true, shape:{x1:cx-27*S,y1:cy,x2:cx+27*S,y2:cy}, style:{stroke:c[1], lineWidth:BOX_LW*2}});
  graphics.push(txt(legendTextX[k]*S, cy, m, (36.7*S)+'px '+FONT));
});
const shapeLegend = ['Donor-Recipient Accuracy','Donor Set Accuracy','Most-Likely Donor Accuracy'];
const shapeKeyX = [1042, 1606, 2055];
const shapeTextX = [1103, 1667, 2116];
const lst = {fill:'none', stroke:'#000000', lineWidth:1.8*S};
graphics.push({type:'circle', silent:true, shape:{cx:shapeKeyX[0]*S, cy:LY2*S, r:8*S}, style:lst});
graphics.push({type:'rect', silent:true, shape:{x:(shapeKeyX[1]-7.5)*S, y:(LY2-7.5)*S, width:15*S, height:15*S}, style:lst});
graphics.push({type:'polygon', silent:true, shape:{points:[[shapeKeyX[2]*S,(LY2-10)*S],[(shapeKeyX[2]+9.5)*S,(LY2+7)*S],[(shapeKeyX[2]-9.5)*S,(LY2+7)*S]]}, style:lst});
shapeLegend.forEach((t, k) => graphics.push(txt(shapeTextX[k]*S, LY2*S, t, (36.7*S)+'px '+FONT)));

const chart = echarts.init(document.getElementById('chart'), null, {renderer:'canvas'});
chart.setOption({
  backgroundColor:'#ffffff', animation:false, tooltip:{show:false},
  grid:grids, xAxis:xAxes, yAxis:yAxes, series:series,
  graphic:{elements:graphics}
});
</script></body></html>
